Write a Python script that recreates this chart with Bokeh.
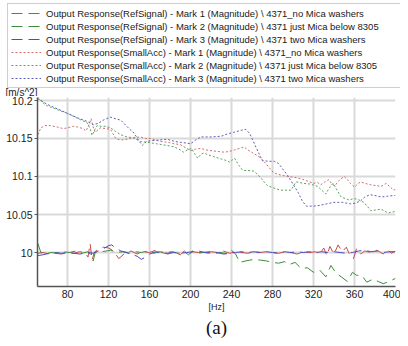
from bokeh.plotting import figure
from bokeh.models import Range1d, FixedTicker, Legend, LegendItem, Label, Title
from bokeh.embed import file_html
from bokeh.resources import INLINE

# ---------------- data ----------------
x_ticks = [80, 120, 160, 200, 240, 280, 320, 360, 400]
y_ticks = [10, 10.05, 10.1, 10.15, 10.2]
y_tick_labels = ["10", "10.05", "10.1", "10.15", "10.2"]

series_names = [
    "Output Response(RefSignal) - Mark 1 (Magnitude) \\ 4371_no Mica washers",
    "Output Response(RefSignal) - Mark 2 (Magnitude) \\ 4371 just Mica below 8305",
    "Output Response(RefSignal) - Mark 3 (Magnitude) \\ 4371 two Mica washers",
    "Output Response(SmallAcc) - Mark 1 (Magnitude) \\ 4371_no Mica washers",
    "Output Response(SmallAcc) - Mark 2 (Magnitude) \\ 4371 just Mica below 8305",
    "Output Response(SmallAcc) - Mark 3 (Magnitude) \\ 4371 two Mica washers",
]

ref1_hz = [51, 56, 62, 68, 74, 80, 86, 92, 97, 100, 102, 104, 106, 110, 115, 120, 125, 130, 136, 142,
           148, 154, 160, 166, 172, 178, 184, 190, 194, 198, 202, 208, 214, 220, 226, 232, 238, 244, 250, 256,
           262, 268, 274, 280, 286, 292, 298, 304, 310, 316, 322, 326, 330, 333, 336, 340, 344, 348, 352, 356,
           359, 362, 366, 370, 376, 382, 388, 392, 396, 400]
ref1_val = [9.999, 10.000, 9.998, 9.999, 9.998, 10.000, 9.999, 10.001, 10.000, 9.994,
            10.012, 9.990, 10.000, 10.005, 10.007, 10.006, 10.002, 9.992, 9.999, 10.002,
            9.998, 10.001, 10.000, 10.003, 10.000, 9.998, 10.001, 9.997, 10.002, 9.997,
            10.001, 10.000, 9.999, 10.001, 10.000, 10.002, 9.999, 10.001, 10.000, 9.999,
            10.001, 10.000, 10.001, 10.000, 9.999, 10.001, 10.000, 9.998, 10.001, 10.000,
            10.001, 9.998, 10.006, 9.996, 10.008, 9.998, 10.010, 10.001, 10.007, 9.995,
            9.992, 10.005, 9.998, 10.002, 10.000, 10.003, 9.998, 10.004, 9.999, 10.002]

ref2_hz = [51, 54, 58, 64, 70, 76, 82, 88, 94, 100, 103, 105, 107, 112, 118, 122, 128, 134, 140, 146,
           152, 158, 164, 170, 176, 182, 188, 194, 198, 202, 206, 212, 218, 224, 230, 236, 240, 244, 248, 254,
           262, 268, 274, 280, 286, 292, 296, 302, 308, 314, 320, 326, 332, 337, 342, 347, 353, 358, 362, 367,
           372, 378, 383, 388, 394, 400]
ref2_val = [10.012, 10.000, 9.998, 10.000, 9.999, 10.001, 10.000, 10.002, 9.999, 10.001,
            9.996, 9.989, 10.000, 10.001, 10.002, 10.003, 10.000, 10.001, 9.999, 10.001,
            10.000, 10.002, 9.999, 10.001, 10.000, 10.001, 9.999, 10.001, 9.997, 10.002,
            9.999, 10.000, 10.001, 9.999, 10.000, 9.998, 10.003, 9.998, 9.987, 9.989,
            9.991, 9.990, 9.989, 9.987, 9.986, 9.988, 9.984, 9.987, 9.979, 9.980,
            9.974, 9.977, 9.968, 9.983, 9.973, 9.968, 9.962, 9.974, 9.970, 9.970,
            9.961, 9.965, 9.962, 9.959, 9.962, 9.966]

ref3_hz = [51, 56, 62, 68, 74, 80, 86, 92, 96, 100, 105, 110, 115, 120, 123, 127, 132, 138, 144, 148,
           152, 156, 160, 166, 172, 178, 184, 190, 196, 202, 208, 214, 220, 226, 232, 238, 244, 250, 256, 262,
           268, 274, 280, 286, 292, 298, 304, 310, 316, 322, 328, 334, 340, 346, 352, 358, 364, 370, 376, 382,
           388, 394, 400]
ref3_val = [9.996, 9.997, 9.999, 10.000, 9.999, 10.000, 9.999, 9.998, 9.999, 10.000,
            9.999, 10.002, 10.005, 10.009, 10.010, 10.006, 10.002, 10.000, 9.997, 9.995,
            9.991, 9.994, 9.998, 10.001, 10.000, 9.999, 10.000, 9.999, 10.000, 10.001,
            10.002, 10.000, 9.999, 10.000, 9.998, 9.999, 10.000, 10.001, 10.000, 10.001,
            10.000, 10.001, 10.000, 9.999, 10.001, 10.000, 10.001, 10.000, 10.001, 10.000,
            10.001, 10.000, 10.001, 10.000, 9.999, 10.000, 10.002, 10.003, 10.001, 10.002,
            10.000, 10.001, 10.001]

small1_hz = [51, 54, 58, 63, 70, 76, 80, 86, 90, 95, 98, 101, 103, 105, 107, 112, 117, 122, 127, 132,
             138, 144, 151, 156, 161, 166, 171, 178, 184, 190, 195, 200, 205, 210, 215, 220, 226, 233, 238, 243,
             248, 252, 257, 262, 268, 274, 281, 288, 295, 301, 308, 314, 320, 324, 327, 331, 335, 338, 341, 345,
             350, 353, 356, 360, 363, 366, 370, 376, 381, 386, 391, 395, 398, 400]
small1_val = [10.155, 10.164, 10.167, 10.167, 10.165, 10.163, 10.164, 10.166, 10.165, 10.163,
              10.160, 10.168, 10.176, 10.165, 10.158, 10.164, 10.163, 10.162, 10.150, 10.148,
              10.149, 10.151, 10.152, 10.150, 10.150, 10.148, 10.146, 10.145, 10.143, 10.142,
              10.138, 10.134, 10.136, 10.137, 10.135, 10.134, 10.133, 10.132, 10.133, 10.135,
              10.137, 10.139, 10.134, 10.130, 10.125, 10.116, 10.105, 10.102, 10.100, 10.099,
              10.097, 10.094, 10.091, 10.092, 10.089, 10.093, 10.096, 10.090, 10.088, 10.095,
              10.100, 10.096, 10.091, 10.086, 10.090, 10.093, 10.091, 10.089, 10.088, 10.087,
              10.091, 10.086, 10.082, 10.083]

small2_hz = [51, 55, 60, 66, 72, 80, 86, 92, 99, 102, 104, 106, 109, 113, 117, 122, 127, 132, 138, 144,
             151, 158, 167, 176, 184, 190, 193, 197, 201, 204, 207, 210, 213, 218, 223, 230, 235, 238, 241, 243,
             247, 251, 256, 262, 268, 275, 281, 288, 293, 298, 303, 310, 317, 324, 328, 332, 335, 339, 343, 347,
             351, 355, 359, 363, 369, 373, 376, 381, 386, 390, 393, 396, 400]
small2_val = [10.205, 10.198, 10.193, 10.190, 10.187, 10.183, 10.179, 10.175, 10.171, 10.163,
              10.154, 10.160, 10.167, 10.166, 10.166, 10.164, 10.159, 10.155, 10.152, 10.151,
              10.146, 10.145, 10.143, 10.141, 10.139, 10.135, 10.132, 10.135, 10.137, 10.130,
              10.124, 10.129, 10.131, 10.128, 10.126, 10.123, 10.121, 10.119, 10.122, 10.124,
              10.115, 10.108, 10.108, 10.107, 10.099, 10.088, 10.085, 10.082, 10.082, 10.082,
              10.093, 10.091, 10.090, 10.087, 10.082, 10.077, 10.084, 10.091, 10.082, 10.073,
              10.071, 10.069, 10.071, 10.070, 10.066, 10.060, 10.055, 10.056, 10.057, 10.054,
              10.052, 10.053, 10.054]

small3_hz = [51, 60, 70, 80, 90, 100, 105, 110, 116, 122, 132, 140, 145, 150, 153, 157, 161, 170, 177, 185,
             190, 196, 200, 205, 210, 220, 230, 236, 242, 250, 254, 258, 264, 270, 276, 282, 286, 291, 295, 300,
             305, 309, 313, 320, 326, 333, 340, 348, 356, 361, 366, 370, 375, 380, 386, 392, 398, 400]
small3_val = [10.2026, 10.195, 10.189, 10.183, 10.177, 10.172, 10.168, 10.170, 10.175, 10.178,
              10.174, 10.163, 10.157, 10.146, 10.141, 10.146, 10.147, 10.148, 10.149, 10.146,
              10.145, 10.144, 10.143, 10.148, 10.152, 10.152, 10.153, 10.156, 10.158, 10.161,
              10.162, 10.156, 10.138, 10.121, 10.120, 10.120, 10.117, 10.108, 10.101, 10.090,
              10.079, 10.068, 10.061, 10.061, 10.062, 10.064, 10.066, 10.066, 10.064, 10.065,
              10.068, 10.073, 10.076, 10.075, 10.073, 10.074, 10.075, 10.075]

y_unit_label = "[m/s^2]"
x_unit_label = "[Hz]"
caption = "(a)"

# ---------------- styles ----------------
colors = ["#cc4848", "#3c8c3c", "#4a4ac2", "#d06c6c", "#5aa05a", "#5c5cb8"]
dashes = ["11 6", "11 6", "11 6", "2 2", "2 2", "2 2"]

X0, X1 = 50.7, 400
Y0, Y1 = 9.9553, 10.2039
W = 400
LEG_H = 96
MAIN_H = 338 - LEG_H

xs = [ref1_hz, ref2_hz, ref3_hz, small1_hz, small2_hz, small3_hz]
ys = [ref1_val, ref2_val, ref3_val, small1_val, small2_val, small3_val]

# ---------------- legend strip (top) ----------------
# Its ranges lie outside the data, so only the legend shows; the renderers
# still carry the real series so that their legend glyphs are drawn.
leg = figure(width=W, height=LEG_H, output_backend="svg", toolbar_location=None,
             x_range=Range1d(1000, 1400), y_range=Range1d(20, 21),
             x_axis_location=None, y_axis_location=None,
             min_border=0, min_border_left=0, min_border_right=0,
             min_border_top=0, min_border_bottom=0)
leg.outline_line_color = None
leg.xgrid.visible = False
leg.ygrid.visible = False
leg.background_fill_color = "white"
leg.border_fill_color = "white"

items = []
for i in range(6):
    r = leg.line(xs[i], ys[i], line_color=colors[i], line_width=1, line_dash=dashes[i])
    items.append(LegendItem(label=series_names[i], renderers=[r]))

# location = (left edge, bottom edge) in pixels from the frame's bottom-left corner
legend = Legend(items=items, location=(7, LEG_H - 88),
                label_text_font="Liberation Sans", label_text_font_size="9.5px",
                label_text_color="#1a1a1a",
                glyph_width=30, glyph_height=12, label_height=12, label_standoff=5,
                spacing=1, padding=3, margin=0, label_width=372,
                border_line_color="#a0a0a0", border_line_width=1,
                background_fill_color="white", background_fill_alpha=1.0)
leg.add_layout(legend)
leg.add_layout(Label(x=5, y=LEG_H - 91.5, x_units="screen", y_units="screen", text=y_unit_label,
                     text_font="Liberation Sans", text_font_size="10px", text_color="#222222",
                     text_baseline="middle", text_align="left"))

# ---------------- main plot ----------------
p = figure(width=W, height=MAIN_H, output_backend="svg", toolbar_location=None,
           x_range=Range1d(X0, X1), y_range=Range1d(Y0, Y1),
           min_border_left=37, min_border_right=5, min_border_top=1, min_border_bottom=52)
p.outline_line_color = None
p.background_fill_color = "white"
p.border_fill_color = "white"

p.xaxis.ticker = FixedTicker(ticks=x_ticks)
p.yaxis.ticker = FixedTicker(ticks=y_ticks)
p.yaxis.major_label_overrides = {t: s for t, s in zip(y_ticks, y_tick_labels)}
p.xgrid.ticker = FixedTicker(ticks=x_ticks)
p.ygrid.ticker = FixedTicker(ticks=y_ticks)
for g in (p.xgrid, p.ygrid):
    g.grid_line_color = "#d9d9d9"
    g.grid_line_width = 2

for ax in (p.xaxis, p.yaxis):
    ax.axis_line_color = "#555555"
    ax.axis_line_width = 1.5
    ax.minor_tick_line_color = None
    ax.major_label_text_font = "Liberation Sans"
    ax.major_label_text_font_size = "10.5px"
    ax.major_label_text_color = "#222222"
p.yaxis.major_tick_out = 3
p.yaxis.major_tick_in = 0
p.yaxis.major_tick_line_color = "#555555"
p.yaxis.major_label_standoff = 2
p.xaxis.major_tick_out = 0
p.xaxis.major_tick_in = 0
p.xaxis.major_tick_line_color = None
p.xaxis.major_label_standoff = 3
p.xaxis.axis_label = x_unit_label
p.xaxis.axis_label_text_font = "Liberation Sans"
p.xaxis.axis_label_text_font_size = "9px"
p.xaxis.axis_label_text_font_style = "normal"
p.xaxis.axis_label_text_color = "#222222"
p.xaxis.axis_label_standoff = 1

for i in range(6):
    p.line(xs[i], ys[i], line_color=colors[i], line_width=1, line_dash=dashes[i])

p.add_layout(Title(text=caption, align="center", text_font="Liberation Serif",
                   text_font_size="19px", text_font_style="normal", text_color="#111111",
                   offset=-6, standoff=0), "below")

open("out.html", "w").write(file_html([leg, p], INLINE))
